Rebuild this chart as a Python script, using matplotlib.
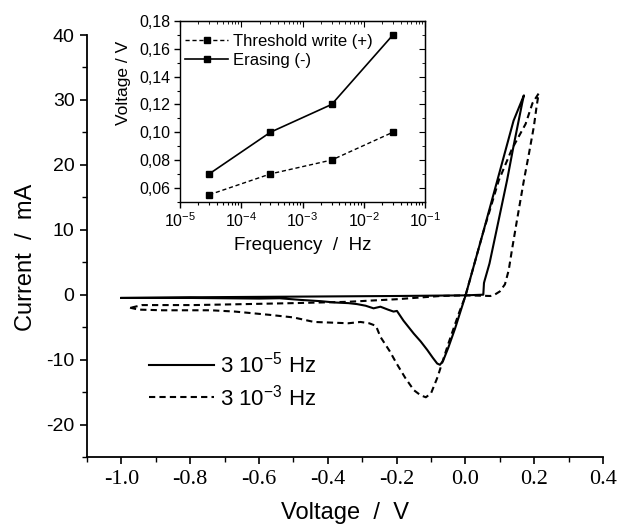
import numpy as np
import matplotlib
matplotlib.use('Agg')
import matplotlib.pyplot as plt
from matplotlib import ticker

plt.rcParams['font.family'] = ['Liberation Sans', 'DejaVu Sans']
plt.rcParams['axes.unicode_minus'] = False
plt.rcParams['mathtext.fontset'] = 'custom'
plt.rcParams['mathtext.rm'] = 'Liberation Sans'

# cyclic voltammetry loops, 3e-5 Hz (solid)
v_slow = [-1.00, -0.90, -0.80, -0.70, -0.60, -0.54, -0.48, -0.42, -0.38, -0.34,
          -0.315, -0.29, -0.267, -0.247, -0.225, -0.209, -0.199, -0.18, -0.15, -0.13,
          -0.111, -0.095, -0.082, -0.074, -0.065, -0.05, -0.03, 0.0, 0.05, 0.10,
          0.14, 0.170, 0.165, 0.14, 0.121, 0.09, 0.07, 0.056, 0.054, 0.052,
          0.0, -0.2, -0.5, -0.8, -1.0]
i_slow = [-0.5, -0.5, -0.5, -0.55, -0.6, -0.55, -0.8, -1.0, -1.2, -1.3,
          -1.45, -1.7, -2.1, -1.85, -2.3, -2.6, -2.5, -4.0, -6.0, -7.2,
          -8.5, -9.7, -10.6, -10.8, -10.2, -8.2, -5.2, -0.2, 9.3, 19.0,
          26.8, 30.7, 29.5, 22.9, 17.6, 9.8, 4.8, 2.2, 1.8, 0.0,
          -0.1, -0.2, -0.3, -0.4, -0.5]

# 3e-3 Hz (dashed)
v_fast = [-0.975, -0.95, -0.88, -0.80, -0.74, -0.67, -0.57, -0.50, -0.44, -0.39,
          -0.34, -0.305, -0.28, -0.26, -0.247, -0.22, -0.20, -0.175, -0.15, -0.13,
          -0.115, -0.10, -0.081, -0.05, -0.02, 0.0, 0.05, 0.097, 0.135, 0.175,
          0.195, 0.213, 0.207, 0.199, 0.185, 0.17, 0.15, 0.135, 0.126, 0.115,
          0.10, 0.085, 0.073, 0.04, 0.0, -0.073, -0.2, -0.344, -0.5, -0.64,
          -0.79, -0.94, -0.98]
i_fast = [-2.0, -2.3, -2.4, -2.4, -2.4, -2.6, -3.1, -3.5, -4.2, -4.3,
          -4.4, -4.2, -4.4, -4.8, -6.5, -8.7, -10.6, -12.8, -14.7, -15.5,
          -15.8, -15.2, -12.7, -7.6, -3.0, -0.2, 9.3, 17.6, 22.4, 26.3,
          29.5, 31.0, 29.0, 25.9, 21.8, 17.6, 11.5, 6.8, 3.8, 1.6,
          0.5, 0.0, -0.2, -0.15, -0.1, -0.2, -0.7, -1.1, -1.3, -1.45,
          -1.6, -1.6, -2.1]

# inset
freq = [3e-5, 3e-4, 3e-3, 3e-2]
v_write = [0.055, 0.07, 0.08, 0.10]
v_erase = [0.07, 0.10, 0.12, 0.17]

fig = plt.figure(figsize=(6.18, 5.25), dpi=100)
ax = fig.add_axes([87/618, 68/525, 516/618, 422/525])

ax.plot(v_slow, i_slow, color='k', lw=1.5, label='3 10$^{-5}$ Hz')
ax.plot(v_fast, i_fast, color='k', lw=1.5, dashes=(3, 2), label='3 10$^{-3}$ Hz')

ax.set_xlim(-1.1, 0.4)
ax.set_ylim(-25, 40)
ax.spines['top'].set_visible(False)
ax.spines['right'].set_visible(False)
ax.spines['left'].set_linewidth(1.3)
ax.spines['bottom'].set_linewidth(1.3)
ax.xaxis.set_major_locator(ticker.MultipleLocator(0.2))
ax.xaxis.set_minor_locator(ticker.MultipleLocator(0.1))
ax.yaxis.set_major_locator(ticker.MultipleLocator(10))
ax.yaxis.set_minor_locator(ticker.MultipleLocator(5))
ax.xaxis.set_major_formatter(ticker.FuncFormatter(lambda v, p: f"{v:.1f}"))
ax.tick_params(which='major', direction='out', length=5, width=1.2, labelsize=14, pad=4)
ax.tick_params(which='minor', direction='out', length=3.5, width=1.0)
for t in ax.get_xticklabels():
    t.set_family('Liberation Serif')
    t.set_fontsize(16)
ax.set_xlabel('Voltage  /  V', fontsize=17, labelpad=10)
ax.set_ylabel('Current  /  mA', fontsize=17)
ax.yaxis.set_label_coords(-0.097, 0.474)

ax.legend(loc='center left', bbox_to_anchor=(0.082, 0.18), frameon=False,
          fontsize=16, handlelength=2.9, handletextpad=0.3, labelspacing=0.3)

# inset
ins = fig.add_axes([180/618, (525-201.7)/525, 245/618, 180.7/525])
ins.plot(freq, v_write, color='k', lw=1, dashes=(3, 2), marker='s', ms=4,
         label='Threshold write (+)')
ins.plot(freq, v_erase, color='k', lw=1.2, marker='s', ms=4, label='Erasing (-)')
ins.set_xscale('log')
ins.set_xlim(1e-5, 1e-1)
ins.set_ylim(0.05, 0.18)
ins.yaxis.set_major_locator(ticker.MultipleLocator(0.02))
ins.yaxis.set_minor_locator(ticker.MultipleLocator(0.01))
ins.yaxis.set_major_formatter(ticker.FuncFormatter(lambda v, p: f"{v:.2f}".replace('.', ',')))
ins.xaxis.set_major_locator(ticker.LogLocator(base=10, numticks=10))
ins.xaxis.set_minor_locator(ticker.LogLocator(base=10, subs=np.arange(2, 10), numticks=10))
ins.xaxis.set_minor_formatter(ticker.NullFormatter())
ins.tick_params(which='major', direction='out', length=4, width=1, labelsize=11.5, pad=3)
ins.tick_params(which='minor', direction='out', length=2, width=0.8)
for s in ins.spines.values():
    s.set_linewidth(1)
sx = ins.secondary_xaxis('top')
sx.set_xscale('log')
sx.tick_params(which='both', direction='in', labeltop=False)
sx.tick_params(which='major', length=4)
sx.tick_params(which='minor', length=2)
sx.xaxis.set_minor_formatter(ticker.NullFormatter())
sx.xaxis.set_major_formatter(ticker.NullFormatter())
sy = ins.secondary_yaxis('right')
sy.yaxis.set_major_locator(ticker.MultipleLocator(0.02))
sy.yaxis.set_minor_locator(ticker.MultipleLocator(0.01))
sy.tick_params(which='both', direction='in', labelright=False)
sy.tick_params(which='major', length=4)
sy.tick_params(which='minor', length=2)
ins.set_xlabel('Frequency  /  Hz', fontsize=13.5, labelpad=5)
ins.set_ylabel('Voltage / V', fontsize=12.5)
ins.yaxis.set_label_coords(-0.2, 0.66)
ins.legend(loc='upper left', bbox_to_anchor=(0.0, 0.956), frameon=False, fontsize=12,
           handlelength=2.6, handletextpad=0.3, labelspacing=0.25,
           borderaxespad=0, borderpad=0.3)

fig.savefig('out.png', dpi=100)
